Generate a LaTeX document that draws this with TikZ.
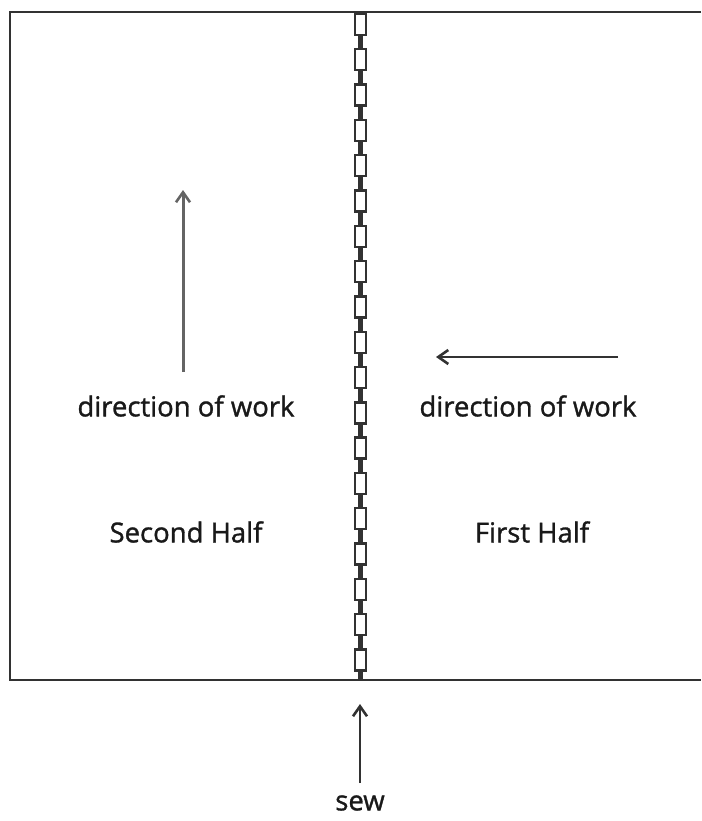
\documentclass[tikz,border=0pt]{standalone}
\usepackage{fontspec}
\setmainfont[FakeBold=1.2]{Open Sans}
\usepackage{xcolor}
\usepackage{tikz}
\usetikzlibrary{arrows.meta, positioning}
\definecolor{edgegray}{RGB}{50,50,50}
\definecolor{arrowgray}{RGB}{100,100,100}

\begin{document}
\begin{tikzpicture}[
        x=1pt, y=-1pt,
        % Styles
        edge/.style={draw=edgegray, line width=2.4pt},
        link/.style={draw=edgegray, fill=white, line width=2.4pt},
        label/.style={font=\fontsize{27.5}{32}\selectfont, text=black!90, inner sep=0pt},
        workarrow/.style={-{Straight Barb[length=10pt, width=14pt, line width=2.6pt]}, line width=2pt},
    ]
    \useasboundingbox (0,0) rectangle (701,821);

    % Outline of the two halves
    \draw[edge] (701,12) -- (10,12) -- (10,680) -- (701,680);

    % Seam (chain of links)
    \draw[draw=edgegray, line width=5pt] (360,12) -- (360,680);
    \foreach \i in {0,...,18} {
        \draw[link] (355,{14+\i*35.3}) rectangle (366,{35+\i*35.3});
    }

    % Labels
    \node[label] (dirleft) at (186,406) {direction of work};
    \node[label] (dirright) at (528,406) {direction of work};
    \node[label] (second) at (186,532) {Second Half};
    \node[label] (first) at (532,532) {First Half};
    \node[label] (sew) at (360,803) {sew};

    % Direction arrows
    \coordinate (upfrom) at (183,372);
    \coordinate (upto) at (183,190);
    \coordinate (leftfrom) at (618,357);
    \coordinate (leftto) at (436,357);
    \coordinate (sewto) at (360,704);
    \draw[workarrow, arrowgray, line width=3pt] (upfrom) -- (upto);
    \draw[workarrow, edgegray] (leftfrom) -- (leftto);
    \draw[workarrow, edgegray] ([yshift=12pt]sew.north) -- (sewto);

\end{tikzpicture}
\end{document}
